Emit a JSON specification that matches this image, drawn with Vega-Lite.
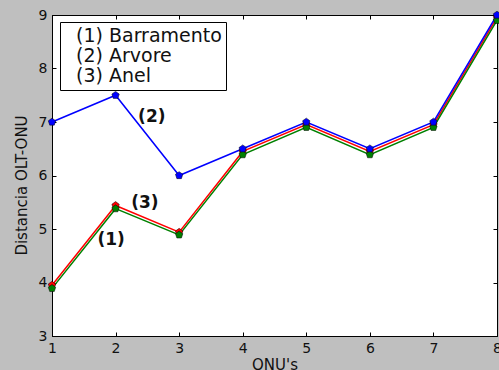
{
  "$schema": "https://vega.github.io/schema/vega-lite/v6.json",
  "width": 445,
  "height": 321,
  "autosize": {"type": "none"},
  "padding": {"left": 52, "top": 15, "right": 2, "bottom": 34},
  "background": "#bfbfbf",
  "config": {
    "font": "DejaVu Sans",
    "view": {"stroke": "black", "strokeWidth": 1, "fill": "white"},
    "axis": {
      "domainColor": "black",
      "tickColor": "black",
      "labelColor": "#111111",
      "titleColor": "#111111",
      "labelFont": "DejaVu Sans",
      "titleFont": "DejaVu Sans",
      "labelFontSize": 14,
      "titleFontSize": 15,
      "titleFontWeight": "normal",
      "grid": false,
      "tickSize": -4
    },
    "legend": {
      "orient": "none",
      "legendX": 8,
      "legendY": 7,
      "strokeColor": "black",
      "fillColor": "white",
      "padding": 4,
      "symbolSize": 0,
      "symbolOpacity": 0,
      "symbolStrokeWidth": 0,
      "labelFont": "DejaVu Sans",
      "labelFontSize": 19,
      "labelColor": "#111111",
      "labelOffset": -7,
      "rowPadding": 0,
      "labelLimit": 300
    }
  },
  "datasets": {
    "series": [
      {"onu": 1, "dist": 3.95, "serie": "(3) Anel"},
      {"onu": 2, "dist": 5.44, "serie": "(3) Anel"},
      {"onu": 3, "dist": 4.94, "serie": "(3) Anel"},
      {"onu": 4, "dist": 6.45, "serie": "(3) Anel"},
      {"onu": 5, "dist": 6.95, "serie": "(3) Anel"},
      {"onu": 6, "dist": 6.45, "serie": "(3) Anel"},
      {"onu": 7, "dist": 6.95, "serie": "(3) Anel"},
      {"onu": 8, "dist": 8.95, "serie": "(3) Anel"},
      {"onu": 1, "dist": 3.89, "serie": "(1) Barramento"},
      {"onu": 2, "dist": 5.38, "serie": "(1) Barramento"},
      {"onu": 3, "dist": 4.89, "serie": "(1) Barramento"},
      {"onu": 4, "dist": 6.39, "serie": "(1) Barramento"},
      {"onu": 5, "dist": 6.9, "serie": "(1) Barramento"},
      {"onu": 6, "dist": 6.39, "serie": "(1) Barramento"},
      {"onu": 7, "dist": 6.9, "serie": "(1) Barramento"},
      {"onu": 8, "dist": 8.9, "serie": "(1) Barramento"},
      {"onu": 1, "dist": 7.0, "serie": "(2) Arvore"},
      {"onu": 2, "dist": 7.5, "serie": "(2) Arvore"},
      {"onu": 3, "dist": 6.0, "serie": "(2) Arvore"},
      {"onu": 4, "dist": 6.5, "serie": "(2) Arvore"},
      {"onu": 5, "dist": 7.0, "serie": "(2) Arvore"},
      {"onu": 6, "dist": 6.5, "serie": "(2) Arvore"},
      {"onu": 7, "dist": 7.0, "serie": "(2) Arvore"},
      {"onu": 8, "dist": 9.0, "serie": "(2) Arvore"}
    ],
    "notes": [
      {"onu": 2.57, "dist": 7.09, "label": "(2)"},
      {"onu": 2.46, "dist": 5.48, "label": "(3)"},
      {"onu": 1.93, "dist": 4.79, "label": "(1)"}
    ]
  },
  "layer": [
    {
      "data": {"name": "series"},
      "mark": {"type": "line", "strokeWidth": 1.5, "clip": false},
      "encoding": {
        "x": {
          "field": "onu", "type": "quantitative",
          "scale": {"domain": [1, 8], "nice": false, "zero": false},
          "axis": {"values": [1, 2, 3, 4, 5, 6, 7, 8], "title": "ONU's", "labelPadding": 9, "titlePadding": 2, "labelFlush": false}
        },
        "y": {
          "field": "dist", "type": "quantitative",
          "scale": {"domain": [3, 9], "nice": false, "zero": false},
          "axis": {"values": [3, 4, 5, 6, 7, 8, 9], "title": "Distancia OLT-ONU", "labelPadding": 9, "titlePadding": 9, "titleY": 170, "labelFlush": false}
        },
        "color": {
          "field": "serie", "type": "nominal",
          "scale": {"domain": ["(1) Barramento", "(2) Arvore", "(3) Anel"], "range": ["#008000", "#0000ff", "#ff0000"]},
          "legend": {"title": null, "symbolType": "circle", "symbolSize": 0}
        }
      }
    },
    {
      "data": {"name": "series"},
      "mark": {
        "type": "point", "filled": true, "opacity": 1, "size": 60, "clip": false,
        "shape": "M0,-1L0.951,-0.309L0.588,0.809L-0.588,0.809L-0.951,-0.309Z",
        "stroke": "black", "strokeWidth": 0.5
      },
      "encoding": {
        "x": {"field": "onu", "type": "quantitative", "axis": null},
        "y": {"field": "dist", "type": "quantitative", "axis": null},
        "fill": {"field": "serie", "type": "nominal", "scale": {"domain": ["(1) Barramento", "(2) Arvore", "(3) Anel"], "range": ["#008000", "#0000ff", "#ff0000"]}, "legend": null}
      }
    },
    {
      "data": {"name": "notes"},
      "mark": {"type": "text", "fontWeight": "bold", "fontSize": 17, "font": "DejaVu Sans", "color": "#111111"},
      "encoding": {
        "x": {"field": "onu", "type": "quantitative", "axis": null},
        "y": {"field": "dist", "type": "quantitative", "axis": null},
        "text": {"field": "label"}
      }
    },
    {
      "data": {"name": "notes"},
      "mark": {"type": "point", "opacity": 0},
      "encoding": {
        "x": {"field": "onu", "type": "quantitative", "axis": {"orient": "top", "values": [1, 2, 3, 4, 5, 6, 7, 8], "labels": false, "domain": false, "title": null}},
        "y": {"field": "dist", "type": "quantitative", "axis": {"orient": "right", "values": [3, 4, 5, 6, 7, 8, 9], "labels": false, "domain": false, "title": null}}
      }
    }
  ],
  "resolve": {"axis": {"x": "independent", "y": "independent"}}
}
